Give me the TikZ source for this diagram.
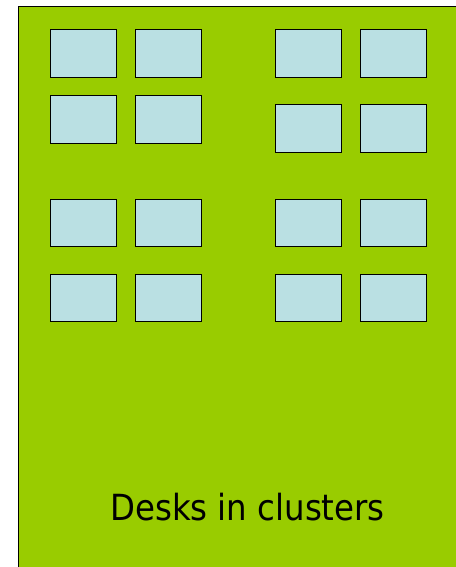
\documentclass[tikz,border=0pt]{standalone}
\usepackage{fontspec}
\newfontfamily\labelfont{DejaVu Sans Condensed}
\usepackage{tikz}
\usetikzlibrary{positioning}
\definecolor{floorgreen}{rgb}{0.60,0.80,0.00}
\definecolor{deskfill}{rgb}{0.73,0.88,0.89}
\tikzset{
  desk/.style={draw=black, line width=1pt, fill=deskfill, anchor=north west,
    minimum width=66pt, minimum height=47.5pt, inner sep=0pt, outer sep=0pt}
}

\begin{document}
\begin{tikzpicture}[x=1pt, y=-1pt]
        \useasboundingbox (0,0) rectangle (455,567);
        \fill[floorgreen] (18,7) rectangle (470,580);
        \draw[black, line width=1pt] (18,580)--(18,7)--(470,7);

        % left cluster
        \node[desk] (la) at (50,30) {};
        \node[desk] (lb) at (135,30) {};
        \node[desk] (lc) at (50,96) {};
        \node[desk] (ld) at (135,96) {};

        \node[desk] (le) at (50,199) {};
        \node[desk] (lf) at (135,199) {};
        \node[desk] (lg) at (50,274) {};
        \node[desk] (lh) at (135,274) {};

        % right cluster
        \node[desk] (ra) at (275,30) {};
        \node[desk] (rb) at (360,30) {};
        \node[desk] (rc) at (275,105) {};
        \node[desk] (rd) at (360,105) {};

        \node[desk] (re) at (275,199) {};
        \node[desk] (rf) at (360,199) {};
        \node[desk] (rg) at (275,274) {};
        \node[desk] (rh) at (360,274) {};

        \node[anchor=base, font=\labelfont\fontsize{36}{40}\selectfont] (caption) at (247.5,520) {Desks in clusters};
      \end{tikzpicture}
\end{document}
